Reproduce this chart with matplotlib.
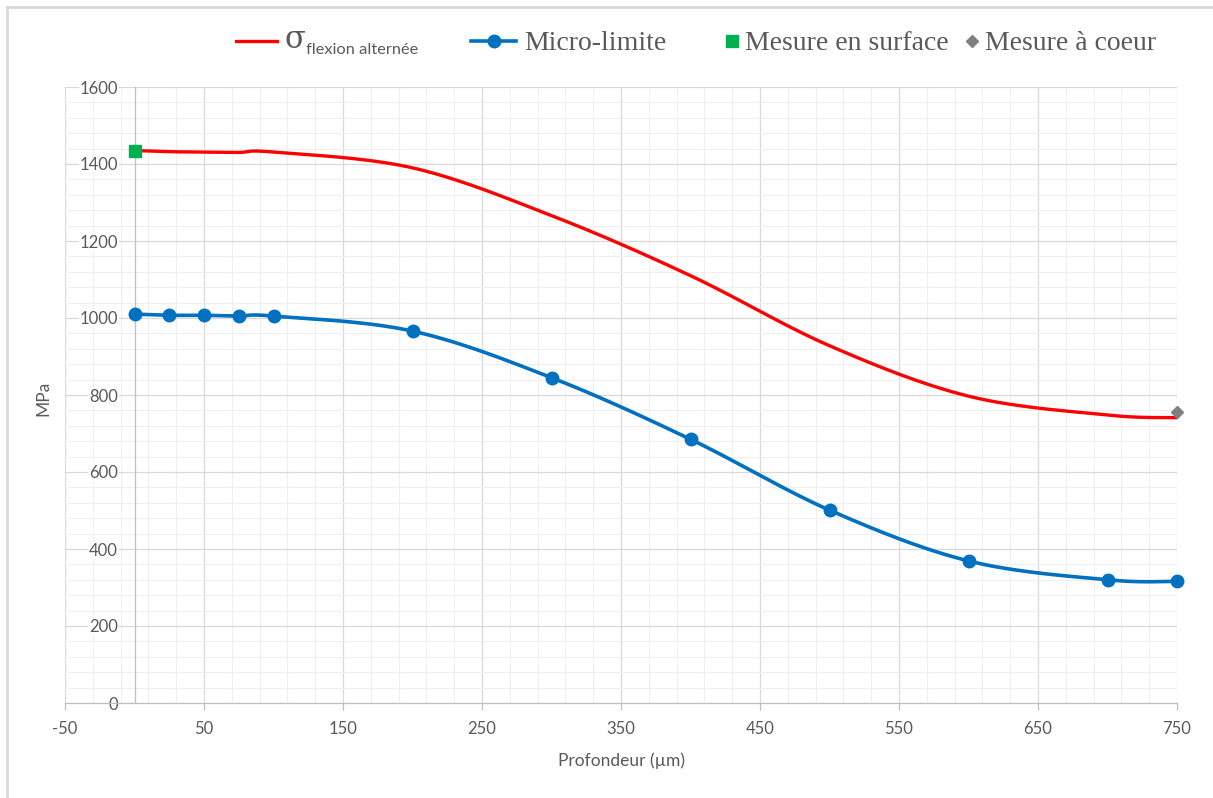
import numpy as np
import matplotlib
matplotlib.use("Agg")
import matplotlib.pyplot as plt
from matplotlib.lines import Line2D
from matplotlib.ticker import MultipleLocator, FixedLocator

plt.rcParams["axes.unicode_minus"] = False

# ---- data ----
depth_red = [0, 25, 50, 75, 100, 200, 300, 400, 500, 600, 700, 750]
sigma_flexion = [1435, 1432, 1431, 1430, 1431, 1390, 1266, 1110, 928, 797, 748, 741]

depth_blue = [0, 25, 50, 75, 100, 200, 300, 400, 500, 600, 700, 750]
micro_limite = [1010, 1007, 1007, 1005, 1005, 966, 845, 685, 501, 369, 320, 316]

surface_x = [0]
surface_y = [1435]
coeur_x = [750]
coeur_y = [755]

x_ticks = [-50, 50, 150, 250, 350, 450, 550, 650, 750]
y_ticks = [0, 200, 400, 600, 800, 1000, 1200, 1400, 1600]

labels = ["σ", "flexion alternée", "Micro-limite", "Mesure en surface", "Mesure à coeur"]
xlabel = "Profondeur (µm)"
ylabel = "MPa"

W, H = 1213, 798
fig = plt.figure(figsize=(W / 100, H / 100), dpi=100)
L, R, T, B = 65, 1177, 87, 703
ax = fig.add_axes([L / W, 1 - B / H, (R - L) / W, (B - T) / H])

xmin, xmax, ymin, ymax = -50, 750, 0, 1600
ax.set_xlim(xmin, xmax)
ax.set_ylim(ymin, ymax)

sx = (R - L) / (xmax - xmin)
sy = (B - T) / (ymax - ymin)


def smooth(x, y, n=30):
    # Catmull-Rom style smoothing (Excel-like), computed in screen-proportional space
    P = np.column_stack([np.asarray(x, float) * sx, np.asarray(y, float) * sy])
    out = [P[0]]
    for i in range(len(P) - 1):
        p0 = P[i - 1] if i > 0 else P[i]
        p1 = P[i]
        p2 = P[i + 1]
        p3 = P[i + 2] if i + 2 < len(P) else P[i + 1]
        c1 = p1 + (p2 - p0) / 6
        c2 = p2 - (p3 - p1) / 6
        t = np.linspace(0, 1, n)[1:, None]
        seg = ((1 - t) ** 3) * p1 + 3 * ((1 - t) ** 2) * t * c1 + 3 * (1 - t) * t ** 2 * c2 + t ** 3 * p2
        out.extend(seg)
    out = np.array(out)
    return out[:, 0] / sx, out[:, 1] / sy


grid_major = "#d9d9d9"
grid_minor = "#efefef"
txt = "#595959"

ax.xaxis.set_major_locator(FixedLocator(x_ticks))
ax.xaxis.set_minor_locator(MultipleLocator(20, offset=10))
ax.yaxis.set_major_locator(FixedLocator(y_ticks))
ax.yaxis.set_minor_locator(MultipleLocator(40))
ax.grid(which="minor", color=grid_minor, lw=0.8, zorder=0)
ax.grid(which="major", color=grid_major, lw=0.9, zorder=0)
ax.set_axisbelow(True)

for s in ["top", "right"]:
    ax.spines[s].set_visible(False)
ax.spines["left"].set_position(("data", 0))
ax.spines["left"].set_color("#bfbfbf")
ax.spines["bottom"].set_color("#bfbfbf")
ax.spines["left"].set_linewidth(0.9)
ax.spines["bottom"].set_linewidth(0.9)

ax.tick_params(axis="x", which="major", direction="out", length=5, width=0.9, color="#bfbfbf",
               labelsize=12, labelcolor=txt, pad=8)
ax.tick_params(axis="x", which="minor", length=0)
ax.tick_params(axis="y", which="both", length=0, labelsize=12, labelcolor=txt, pad=12)
for lab in ax.get_xticklabels() + ax.get_yticklabels():
    lab.set_fontfamily("Lato")
for lab in ax.get_yticklabels():
    lab.set_bbox(dict(facecolor="white", edgecolor="none", pad=0.5))

rx, ry = smooth(depth_red, sigma_flexion)
ax.plot(rx, ry, color="#ff0000", lw=2.4, zorder=3, solid_capstyle="round")
bx, by = smooth(depth_blue, micro_limite)
ax.plot(bx, by, color="#0070c0", lw=2.6, zorder=4, solid_capstyle="round")
ax.plot(depth_blue, micro_limite, "o", color="#0070c0", ms=9, zorder=5, clip_on=False)
ax.plot(surface_x, surface_y, "s", color="#00b050", ms=8, zorder=6, clip_on=False)
ax.plot(coeur_x, coeur_y, "D", color="#7f7f7f", ms=6.5, zorder=6, clip_on=False)

fig.text(621 / W, 1 - 761 / H, xlabel, ha="center", va="center", fontsize=12.5, color=txt, family="Lato")
fig.text(43.5 / W, 1 - 398 / H, ylabel, ha="center", va="center", rotation=90, fontsize=12.5, color=txt, family="Lato")

# ---- legend (manual) ----
def fx(p):
    return p / W


def fy(p):
    return 1 - p / H

ly = 41
fig.add_artist(Line2D([fx(236), fx(277)], [fy(ly), fy(ly)], color="#ff0000", lw=2.4))
fig.text(fx(284), fy(48), labels[0], fontsize=22, color=txt, family="DejaVu Serif", va="baseline")
fig.text(fx(306), fy(54), labels[1], fontsize=11.8, color=txt, family="Lato", va="baseline")

fig.add_artist(Line2D([fx(471), fx(516)], [fy(ly), fy(ly)], color="#0070c0", lw=2.6))
fig.add_artist(Line2D([fx(494)], [fy(ly)], marker="o", color="#0070c0", ms=9))
fig.text(fx(524), fy(50), labels[2], fontsize=20, color=txt, family="Liberation Serif", va="baseline")

fig.add_artist(Line2D([fx(732)], [fy(ly)], marker="s", color="#00b050", ms=8))
fig.text(fx(745), fy(50), labels[3], fontsize=20, color=txt, family="Liberation Serif", va="baseline")

fig.add_artist(Line2D([fx(972)], [fy(ly)], marker="D", color="#7f7f7f", ms=6))
fig.text(fx(985), fy(50), labels[4], fontsize=20, color=txt, family="Liberation Serif", va="baseline")

# outer border (left and top visible in reference)
fig.add_artist(Line2D([fx(7), fx(7)], [fy(7), 0], color="#d9d9d9", lw=2))
fig.add_artist(Line2D([fx(7), 1], [fy(7), fy(7)], color="#d9d9d9", lw=2))

fig.savefig("out.png", dpi=100, facecolor="white")
